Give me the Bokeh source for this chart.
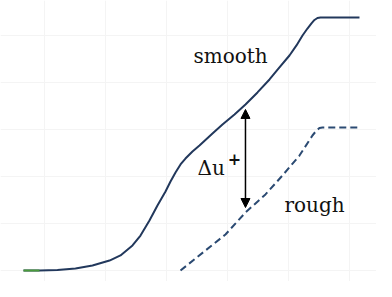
from bokeh.plotting import figure
from bokeh.models import Arrow, NormalHead, Range1d, FixedTicker
from bokeh.core.properties import value
from bokeh.embed import file_html
from bokeh.resources import INLINE

# log10(y+) and u+
smooth_x = [-1.344, -1.082, -0.787, -0.492, -0.213, 0.066, 0.246, 0.443, 0.574,
            0.721, 0.852, 0.984, 1.066, 1.148, 1.230, 1.311, 1.426, 1.541, 1.754,
            1.918, 2.115, 2.295, 2.492, 2.689, 2.852, 3.016, 3.131, 3.230, 3.311,
            3.377, 3.426, 3.475, 3.525, 4.164]
smooth_u = [0.0, 0.0, 0.05, 0.21, 0.53, 1.06, 1.60, 2.66, 3.72,
            5.32, 6.91, 8.40, 9.47, 10.43, 11.28, 11.91, 12.66, 13.30, 14.57,
            15.53, 16.60, 17.66, 18.94, 20.32, 21.60, 22.87, 23.94, 25.0, 25.74,
            26.28, 26.65, 26.86, 26.91, 26.91]
viscous_x = [-1.344, -1.082]
viscous_u = [0.0, 0.0]
rough_x = [1.230, 1.639, 1.967, 2.295, 2.623, 2.902, 3.180, 3.393, 3.459, 3.508,
           3.557, 4.131]
rough_u = [0.0, 2.13, 3.83, 6.17, 8.09, 10.11, 12.23, 14.36, 14.89, 15.16,
           15.21, 15.21]
shift_x = 2.295
shift_top = 17.13
shift_bottom = 6.70
x_ticks = [-1, 0, 1, 2, 3, 4]
u_ticks = [0, 5, 10, 15, 20, 25]

p = figure(width=376, height=281, output_backend="svg", toolbar_location=None,
           x_range=Range1d(-1.721, 4.443), y_range=Range1d(-1.17, 28.72),
           min_border=0, outline_line_color=None)
p.axis.visible = False
p.xaxis.ticker = FixedTicker(ticks=x_ticks)
p.yaxis.ticker = FixedTicker(ticks=u_ticks)
p.grid.grid_line_color = "#f4f4f4"
p.grid.grid_line_width = 1

p.line(smooth_x, smooth_u, line_color="#22385c", line_width=2, line_join="round")
p.line(viscous_x, viscous_u, line_color="#4a9a3c", line_width=2)
p.line(rough_x, rough_u, line_color="#2b4a72", line_width=2, line_dash="7 4")

p.add_layout(Arrow(x_start=shift_x, y_start=shift_bottom, x_end=shift_x, y_end=shift_top,
                   line_color="black", line_width=1.5,
                   end=NormalHead(size=9, fill_color="black", line_color="black"),
                   start=NormalHead(size=9, fill_color="black", line_color="black")))

font = value("DejaVu Serif")
p.text(x=[1.443], y=[22.77], text=["smooth"], text_font=font, text_font_size="20px",
       text_color="#111111", text_baseline="alphabetic", text_align="left")
p.text(x=[2.934], y=[7.02], text=["rough"], text_font=font, text_font_size="20px",
       text_color="#111111", text_baseline="alphabetic", text_align="left")
p.text(x=[1.508], y=[10.85], text=["Δu"], text_font=font, text_font_size="20px",
       text_color="#111111", text_baseline="alphabetic", text_align="left")
p.text(x=[2.115], y=[11.81], text=["+"], text_font=font, text_font_size="16px",
       text_font_style="bold", text_color="#111111", text_baseline="middle",
       text_align="center")

open("out.html", "w").write(file_html(p, INLINE))
